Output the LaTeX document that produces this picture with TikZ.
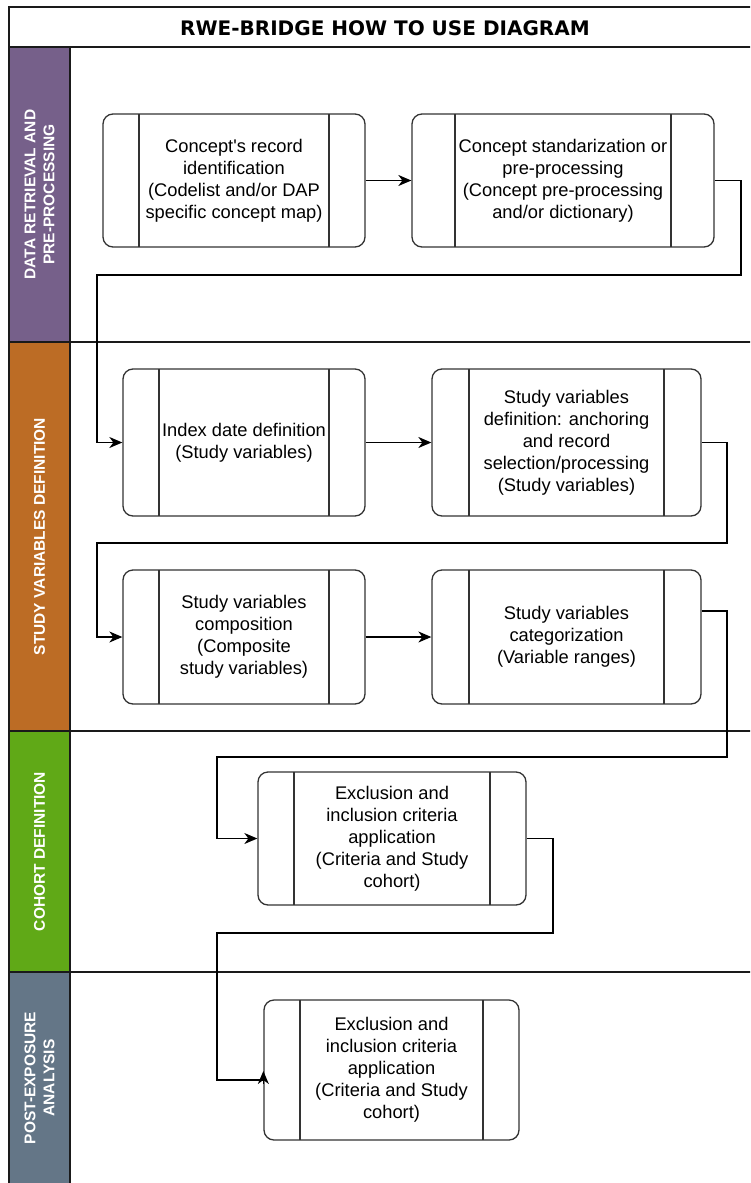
\documentclass[tikz,border=0pt]{standalone}
\usepackage{fontspec}
\setmainfont{Liberation Sans}
\newfontfamily\titlefont{DejaVu Sans}
\usetikzlibrary{arrows.meta}
\definecolor{lanepurple}{HTML}{76608A}
\definecolor{laneorange}{HTML}{BC6C25}
\definecolor{lanegreen}{HTML}{60A917}
\definecolor{laneslate}{HTML}{647687}
\definecolor{boxgray}{HTML}{333333}
\definecolor{frameblack}{HTML}{1A1A1A}
\tikzset{
  procbox/.style n args={3}{draw=boxgray, line width=1.3pt, rounded corners=10pt,
    minimum width=#1pt, minimum height=#2pt, inner sep=0pt, align=center,
    font=\fontsize{18.3}{22}\selectfont,
    path picture={
      \draw[line width=1.3pt, boxgray] ([xshift=#3pt]path picture bounding box.north west) -- ([xshift=#3pt]path picture bounding box.south west);
      \draw[line width=1.3pt, boxgray] ([xshift=-#3pt]path picture bounding box.north east) -- ([xshift=-#3pt]path picture bounding box.south east);
    }},
  conn/.style={draw=black, line width=1.3pt},
  arr/.style={conn, -{Stealth[length=13pt,width=11pt,inset=4pt]}},
  lanelabel/.style={rotate=90, align=center, text=white,
    font=\bfseries\fontsize{15.5}{19}\selectfont},
  frameline/.style={draw=frameblack, line width=1.5pt}
}
\begin{document}
\begin{tikzpicture}[x=1pt,y=-1pt]
\useasboundingbox (0,0) rectangle (750,1183);
\begin{scope}
\clip (0,0) rectangle (750,1183);
% lane label column fills
\fill[lanepurple] (9,47) rectangle (70,342);
\fill[laneorange] (9,342) rectangle (70,731);
\fill[lanegreen] (9,731) rectangle (70,972);
\fill[laneslate] (9,972) rectangle (70,1190);
% frame lines
\draw[frameline] (9,1190) -- (9,7) -- (760,7);
\draw[frameline] (9,47) -- (760,47);
\draw[frameline] (70,47) -- (70,1190);
\draw[frameline] (9,342) -- (760,342);
\draw[frameline] (9,731) -- (760,731);
\draw[frameline] (9,972) -- (760,972);
\end{scope}
% title
\node[font=\titlefont\bfseries\fontsize{20}{24}\selectfont] (title) at (385,28) {RWE-BRIDGE HOW TO USE DIAGRAM};
% lane labels
\node[lanelabel] (l1) at (39.5,194.5) {DATA RETRIEVAL AND\\PRE-PROCESSING};
\node[lanelabel] (l2) at (39.5,536.5) {STUDY VARIABLES DEFINITION};
\node[lanelabel] (l3) at (39.5,851.5) {COHORT DEFINITION};
\node[lanelabel] (l4) at (39.5,1078) {POST-EXPOSURE\\ANALYSIS};
% process boxes
\node[procbox={262}{133}{36}] (b1) at (234,180.5) {Concept\textquotesingle s record\\identification\\(Codelist and/or DAP\\specific concept map)};
\node[procbox={302}{133}{43}] (b2) at (563,180.5) {Concept standarization or\\pre-processing\\(Concept pre-processing\\and/or dictionary)};
\node[procbox={242}{147}{36}] (b3) at (244,442.5) {Index date definition\\(Study variables)};
\node[procbox={269}{147}{37}] (b4) at (566.5,442.5) {Study variables\\definition: anchoring\\and record\\selection/processing\\(Study variables)};
\node[procbox={242}{134}{36}] (b5) at (244,637) {Study variables\\composition\\(Composite\\study variables)};
\node[procbox={269}{134}{37}] (b6) at (566.5,637) {Study variables\\categorization\\(Variable ranges)};
\node[procbox={268}{133}{36}] (b7) at (392,838.5) {Exclusion and\\inclusion criteria\\application\\(Criteria and Study\\cohort)};
\node[procbox={255}{140}{36}] (b8) at (391.5,1070) {Exclusion and\\inclusion criteria\\application\\(Criteria and Study\\cohort)};
% connectors
\draw[arr] (b1.east) -- (b2.west);
\draw[arr] (b2.east) -- (741,180.5) -- (741,275) -- (97,275) |- (b3.west);
\draw[arr] (b3.east) -- (b4.west);
\draw[arr] (b4.east) -- (727,442.5) -- (727,543) -- (97,543) |- (b5.west);
\draw[arr] (b5.east) -- (b6.west);
\draw[arr] ([yshift=26pt]b6.east) -- (727,611) -- (727,757) -- (217,757) |- (b7.west);
\draw[conn] (b7.east) -- (553,838.5) -- (553,933) -- (217,933) |- ([yshift=-10pt]b8.west);
\draw[arr] ([yshift=-14pt]b8.west) -- ([yshift=-1pt]b8.west);
\end{tikzpicture}
\end{document}
